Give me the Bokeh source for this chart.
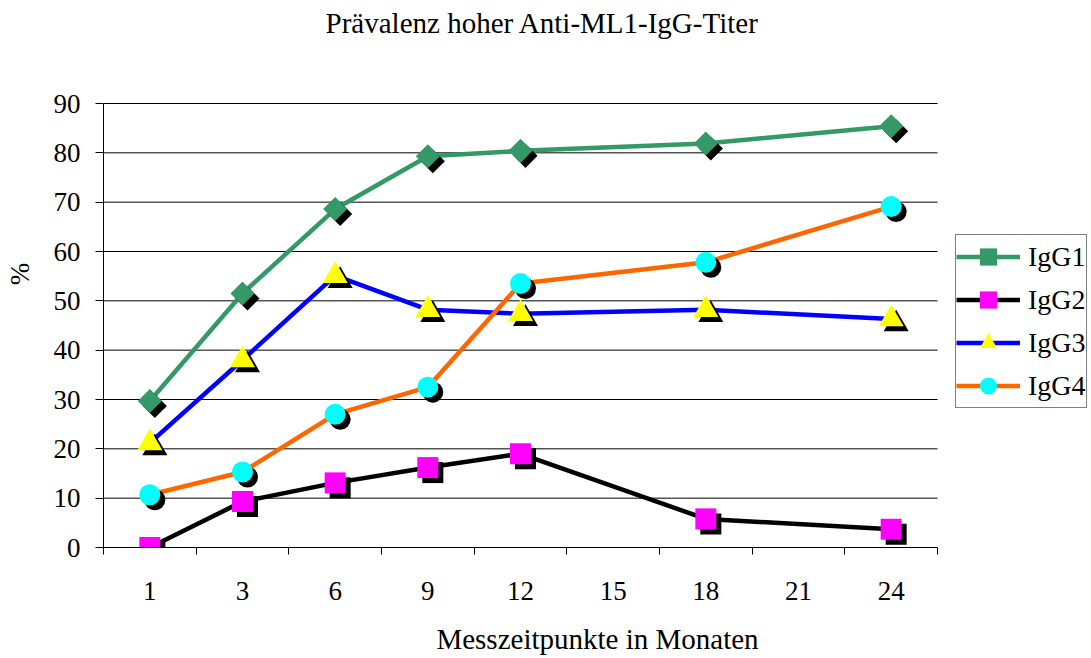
import numpy as np
from bokeh.plotting import figure
from bokeh.models import (Range1d, FixedTicker, Legend, LegendItem, ColumnDataSource, Label)
from bokeh.embed import file_html
from bokeh.resources import INLINE

# ---- data ----
months = ["1", "3", "6", "9", "12", "15", "18", "21", "24"]
measured = ["1", "3", "6", "9", "12", "18", "24"]
series_names = ["IgG1", "IgG2", "IgG3", "IgG4"]
igg1 = [29.7, 51.5, 68.6, 79.3, 80.4, 81.9, 85.4]
igg2 = [0.0, 9.3, 13.1, 16.2, 19.0, 5.8, 3.7]
igg3 = [21.2, 38.0, 55.1, 48.2, 47.4, 48.2, 46.3]
igg4 = [10.7, 15.3, 27.0, 32.5, 53.5, 57.8, 69.1]
y_max = 90
y_ticks = list(range(0, y_max + 1, 10))

title_text = "Prävalenz hoher Anti-ML1-IgG-Titer"
x_title = "Messzeitpunkte in Monaten"
y_title = "%"

FONT = "Liberation Serif"

# ---- layout geometry (pixels) ----
W, H = 1091, 658
left, bottom = 103, 111
axes_w, axes_h = 834, 444          # visible axes box (data area)
frame_w, frame_h = W - left, H - bottom   # frame extends to right and top edges

ncat = len(months)
ux = ncat / axes_w                 # data units per px (x)
uy = y_max / axes_h                # data units per px (y)

p = figure(width=W, height=H, output_backend="svg", toolbar_location=None,
           x_range=Range1d(0, frame_w * ux), y_range=Range1d(0, frame_h * uy),
           min_border_left=left, min_border_right=0,
           min_border_top=0, min_border_bottom=bottom)
p.outline_line_color = None
p.background_fill_color = "white"
p.border_fill_color = "white"

# x axis: labels at category centres, tick marks between categories
centres = [i + 0.5 for i in range(ncat)]
bounds = [float(i) for i in range(ncat + 1)]
p.xaxis.ticker = FixedTicker(ticks=centres, minor_ticks=bounds)
p.xaxis.major_label_overrides = {c: m for c, m in zip(centres, months)}
p.xaxis.bounds = (0, ncat)
p.xaxis.major_tick_line_color = None
p.xaxis.major_tick_out = 6
p.xaxis.major_tick_in = 0
p.xaxis.minor_tick_line_color = "black"
p.xaxis.minor_tick_out = 7
p.xaxis.minor_tick_in = 0
p.xaxis.major_label_standoff = 27
p.xaxis.axis_line_color = "black"
p.xaxis.major_label_text_font = FONT
p.xaxis.major_label_text_font_size = "27px"
p.xaxis.major_label_text_color = "black"
p.xaxis.axis_label = x_title
p.xaxis.axis_label_text_font = FONT
p.xaxis.axis_label_text_font_size = "29px"
p.xaxis.axis_label_text_font_style = "normal"
p.xaxis.axis_label_text_color = "black"
p.xaxis.axis_label_standoff = 20
p.xgrid.visible = False

p.yaxis.ticker = FixedTicker(ticks=y_ticks)
p.yaxis.bounds = (0, y_max)
p.yaxis.minor_tick_line_color = None
p.yaxis.major_tick_line_color = "black"
p.yaxis.major_tick_out = 8
p.yaxis.major_tick_in = 0
p.yaxis.major_label_standoff = 15
p.yaxis.axis_line_color = "black"
p.yaxis.major_label_text_font = FONT
p.yaxis.major_label_text_font_size = "27px"
p.yaxis.major_label_text_color = "black"
p.yaxis.axis_label = y_title
p.yaxis.axis_label_text_font = FONT
p.yaxis.axis_label_text_font_size = "27px"
p.yaxis.axis_label_text_font_style = "normal"
p.yaxis.axis_label_text_color = "black"
p.yaxis.axis_label_standoff = 16
p.ygrid.visible = False

# horizontal gridlines limited to the axes box
grid_src = ColumnDataSource(dict(x0=[0] * len(y_ticks[1:]), x1=[ncat] * len(y_ticks[1:]),
                                 y=y_ticks[1:]))
p.segment("x0", "y", "x1", "y", source=grid_src, line_color="black", line_width=1)

# x positions from category list
xpos = [months.index(m) + 0.5 for m in measured]

# shadow offset (about 5 px right / down)
dx, dy = 5 * ux, 5 * uy

styles = [
    dict(line="#339966", fill="#339966", marker="square", size=17, angle=np.pi / 4),
    dict(line="black", fill="#FF00FF", marker="square", size=21, angle=0),
    dict(line="#0000FF", fill="#FFFF00", marker="triangle", size=25, angle=0),
    dict(line="#FF6600", fill="#00FFFF", marker="circle", size=21, angle=0),
]

items = []
for name, vals, st in zip(series_names, [igg1, igg2, igg3, igg4], styles):
    src = ColumnDataSource(dict(x=xpos, y=vals,
                                xs=[v + dx for v in xpos],
                                ys=[v - dy for v in vals]))
    lr = p.line("x", "y", source=src, line_color=st["line"], line_width=4.5)
    p.scatter("xs", "ys", source=src, marker=st["marker"], size=st["size"],
              angle=st["angle"], fill_color="black", line_color=None)
    mr = p.scatter("x", "y", source=src, marker=st["marker"], size=st["size"],
                   angle=st["angle"], fill_color=st["fill"], line_color=None)
    items.append(LegendItem(label=name, renderers=[lr, mr]))

legend = Legend(items=items, location=(955 - left, frame_h - 408))
legend.border_line_color = "black"
legend.border_line_width = 1
legend.background_fill_color = "white"
legend.background_fill_alpha = 1
legend.label_text_font = FONT
legend.label_text_font_size = "28px"
legend.label_text_color = "black"
legend.glyph_width = 64
legend.glyph_height = 43
legend.label_height = 43
legend.label_standoff = 8
legend.spacing = 0
legend.padding = 0
legend.margin = 0
p.add_layout(legend)

# title inside the extended frame
p.add_layout(Label(x=(542 - left) * ux, y=(frame_h - 22) * uy,
                   text=title_text, text_font=FONT, text_font_size="29px",
                   text_align="center", text_baseline="middle", text_color="black"))

open("out.html", "w").write(file_html(p, INLINE))
